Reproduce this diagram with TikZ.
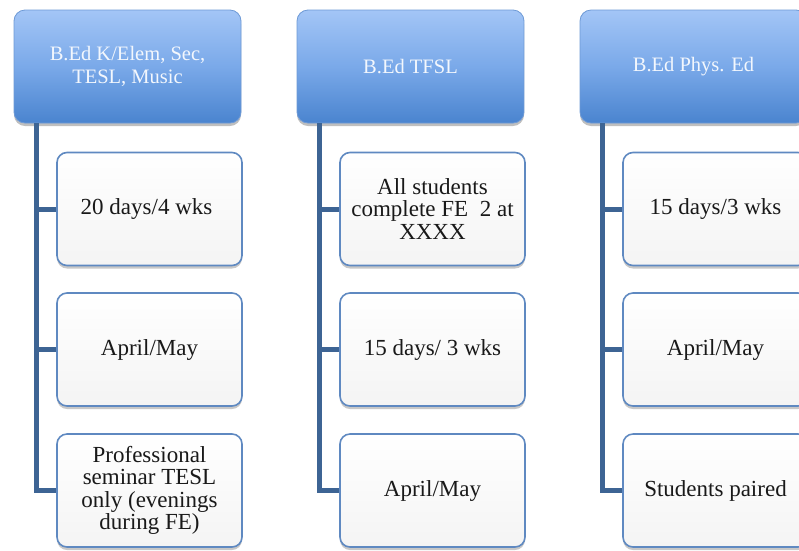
\documentclass[tikz,border=0pt]{standalone}
\usepackage{fontspec}
\setmainfont{Liberation Serif}
\usetikzlibrary{shadows}
\definecolor{hdtop}{HTML}{A3C5F6}
\definecolor{hdmid}{HTML}{7AA9E9}
\definecolor{hdbot}{HTML}{4A84CF}
\definecolor{hdline}{HTML}{6E9AD6}
\definecolor{conn}{HTML}{3D6494}
\definecolor{kidborder}{HTML}{5F89C1}
\definecolor{kidfill}{HTML}{F4F4F4}
\definecolor{hdtext}{HTML}{F3F7FD}
\begin{document}
\begin{tikzpicture}[x=1pt,y=-1pt,
  header/.style={rectangle, rounded corners=11pt, minimum width=227pt, minimum height=113pt,
    top color=hdtop, bottom color=hdbot, middle color=hdmid, draw=hdline, line width=0.8pt,
    text=hdtext, align=center, font=\fontsize{20.5}{22.5}\selectfont, inner sep=2pt,
    drop shadow={shadow xshift=0pt, shadow yshift=-3pt, opacity=0.25, fill=black}},
  kid/.style={rectangle, rounded corners=10pt, minimum width=185pt, minimum height=113pt,
    top color=white, bottom color=kidfill, draw=kidborder, line width=1.6pt,
    text=black!90, align=center, font=\fontsize{23}{22.5}\selectfont, inner sep=2pt,
    drop shadow={shadow xshift=0pt, shadow yshift=-3pt, opacity=0.3, fill=black!70}},
  link/.style={draw=conn, line width=5pt, line join=miter}]
\useasboundingbox (0,0) rectangle (799,550);
\clip (0,0) rectangle (799,550);
\fill[white] (0,0) rectangle (799,550);

% column 1
\node[header] (h1) at (127.5,66.5) {B.Ed K/Elem, Sec,\\TESL, Music};
\node[kid] (c11) at (149.5,209) {20 days/4 wks\hspace*{6pt}};
\node[kid] (c12) at (149.5,349.5) {April/May};
\node[kid] (c13) at (149.5,490.5) {Professional\\seminar TESL\\only (evenings\\during FE)};

% column 2
\node[header] (h2) at (410.5,66.5) {B.Ed TFSL};
\node[kid] (c21) at (432.5,209) {All students\\complete FE\ \ 2 at\\XXXX};
\node[kid] (c22) at (432.5,349.5) {15 days/ 3 wks};
\node[kid] (c23) at (432.5,490.5) {April/May};

% column 3
\node[header] (h3) at (693.5,66.5) {B.Ed Phys. Ed};
\node[kid] (c31) at (715.5,209) {15 days/3 wks};
\node[kid] (c32) at (715.5,349.5) {April/May};
\node[kid] (c33) at (715.5,490.5) {Students paired};

% connectors
\foreach \h/\a/\b/\c in {h1/c11/c12/c13, h2/c21/c22/c23, h3/c31/c32/c33}{
  \draw[link] ([xshift=23pt]\h.south west) |- (\c.west);
  \draw[link] (\a.west) -- ++(-20,0);
  \draw[link] (\b.west) -- ++(-20,0);
}
\end{tikzpicture}
\end{document}
